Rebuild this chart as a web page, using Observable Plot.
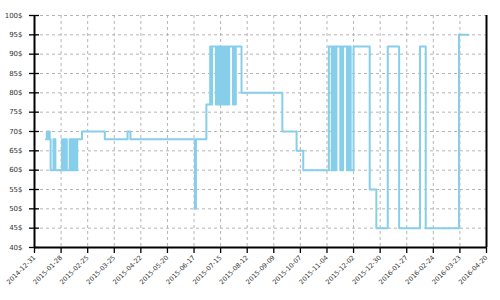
<!DOCTYPE html>
<html><head><meta charset="utf-8">
<script src="https://cdn.jsdelivr.net/npm/d3@7"></script>
<script src="https://cdn.jsdelivr.net/npm/@observablehq/plot@0.6"></script>
<style>body{margin:0;background:#fff}</style>
</head><body><div id="chart"></div>
<script>
const changeDates = [
  "2015-01-12","2015-01-13","2015-01-14","2015-01-15","2015-01-16","2015-01-17",
  "2015-01-20","2015-01-22",
  "2015-01-29","2015-01-30","2015-01-31","2015-02-01","2015-02-02","2015-02-03",
  "2015-02-06","2015-02-07","2015-02-08","2015-02-09","2015-02-10","2015-02-11","2015-02-12","2015-02-13","2015-02-14","2015-02-15",
  "2015-02-19","2015-03-15","2015-04-08","2015-04-11","2015-06-18","2015-06-19","2015-06-30",
  "2015-07-04","2015-07-05","2015-07-06",
  "2015-07-10","2015-07-11","2015-07-12","2015-07-13","2015-07-14","2015-07-15",
  "2015-07-17","2015-07-18","2015-07-19","2015-07-20","2015-07-21","2015-07-22","2015-07-23","2015-07-24",
  "2015-07-28","2015-07-29","2015-07-30","2015-07-31","2015-08-01",
  "2015-08-06","2015-09-18","2015-10-03","2015-10-10",
  "2015-11-06",
  "2015-11-09","2015-11-10","2015-11-11","2015-11-12","2015-11-13","2015-11-14",
  "2015-11-18","2015-11-19","2015-11-20","2015-11-21",
  "2015-11-25","2015-11-26","2015-11-27","2015-11-28","2015-11-29",
  "2015-12-02","2015-12-19","2015-12-26",
  "2016-01-07","2016-01-19","2016-02-10","2016-02-16","2016-03-22","2016-04-01"
];
const prices = [
  68,70,68,70,68,60,
  68,60,
  68,60,68,60,68,60,
  68,60,68,60,68,60,68,60,68,68,
  70,68,70,68,50,68,77,
  92,77,92,
  77,92,77,92,77,92,
  77,92,77,92,77,92,77,92,
  77,92,77,92,92,
  80,70,65,60,
  92,
  60,92,60,92,60,92,
  60,92,60,92,
  60,92,60,92,60,
  92,55,45,
  92,45,92,45,95,95
];
const xTickLabels = [
  "2014-12-31","2015-01-28","2015-02-25","2015-03-25","2015-04-22","2015-05-20",
  "2015-06-17","2015-07-15","2015-08-12","2015-09-09","2015-10-07","2015-11-04",
  "2015-12-02","2015-12-30","2016-01-27","2016-02-24","2016-03-23","2016-04-20"
];
const yTicks = [40,45,50,55,60,65,70,75,80,85,90,95,100];

const parse = s => new Date(s + "T00:00:00Z");
const data = changeDates.map((d, i) => ({date: parse(d), price: prices[i]}));
const xTicks = xTickLabels.map(parse);
const xDomain = [xTicks[0], xTicks[xTicks.length - 1]];

const chart = Plot.plot({
  width: 500, height: 300,
  marginLeft: 34, marginRight: 14, marginTop: 15, marginBottom: 53,
  style: {fontFamily: "'DejaVu Sans', sans-serif", fontSize: "7px", color: "#333", background: "#fff"},
  x: {type: "utc", domain: xDomain},
  y: {domain: [40, 100]},
  marks: [
    Plot.gridY(yTicks, {stroke: "#b5b5b5", strokeOpacity: 1, strokeDasharray: "3,3"}),
    Plot.gridX(xTicks, {stroke: "#b5b5b5", strokeOpacity: 1, strokeDasharray: "3,3"}),
    Plot.line(data, {x: "date", y: "price", curve: "step-after", stroke: "#87CEEB", strokeWidth: 2}),
    Plot.axisY(yTicks, {tickSize: 10, dx: 5, tickFormat: () => "", label: null, stroke: "#000", strokeWidth: 1.3}),
    Plot.axisY(yTicks, {tickSize: 0, tickPadding: 12, tickFormat: d => d + "$", label: null, fill: "#333"}),
    Plot.axisX(xTicks, {tickSize: 6, tickPadding: 3, tickRotate: -45, tickFormat: d3.utcFormat("%Y-%m-%d"), label: null, fontSize: 6.5, stroke: "#000", strokeWidth: 1.3, fill: "#333"}),
    Plot.ruleX(xDomain, {stroke: "#000", strokeWidth: 2}),
    Plot.ruleY([40], {stroke: "#000", strokeWidth: 2})
  ]
});
document.getElementById("chart").appendChild(chart);
</script>
</body></html>
